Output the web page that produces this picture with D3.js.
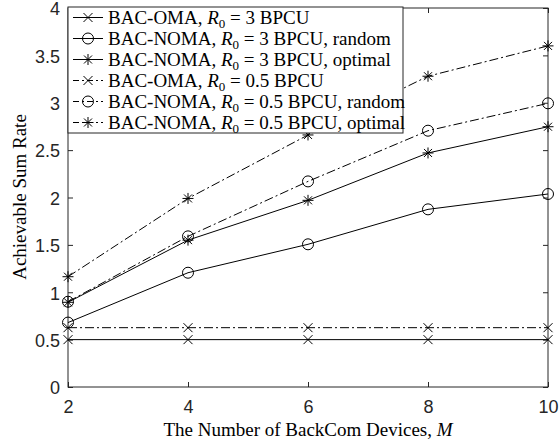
<!DOCTYPE html>
<html><head><meta charset="utf-8">
<script src="https://cdn.jsdelivr.net/npm/d3@7"></script>
<style>body{margin:0;background:#fff}</style>
</head><body>
<svg id="c" width="560" height="443"></svg>
<script>
const devices = [2, 4, 6, 8, 10];
const omaR3 = [0.5, 0.5, 0.5, 0.5, 0.5];
const nomaR3Random = [0.68, 1.206, 1.506, 1.875, 2.037];
const nomaR3Optimal = [0.894, 1.55, 1.97, 2.47, 2.747];
const omaR05 = [0.626, 0.626, 0.626, 0.626, 0.626];
const nomaR05Random = [0.9, 1.59, 2.17, 2.705, 2.994];
const nomaR05Optimal = [1.164, 1.99, 2.66, 3.28, 3.60];
const xTicks = [2, 4, 6, 8, 10];
const yTicks = [0, 0.5, 1, 1.5, 2, 2.5, 3, 3.5, 4];
const seriesNames = ["BAC-OMA", "BAC-NOMA", "BAC-NOMA", "BAC-OMA", "BAC-NOMA", "BAC-NOMA"];
const seriesR0 = ["3", "3", "3", "0.5", "0.5", "0.5"];
const seriesSuffix = ["", ", random", ", optimal", "", ", random", ", optimal"];

const series = [
  {v: omaR3, m: "x", dash: null},
  {v: nomaR3Random, m: "o", dash: null},
  {v: nomaR3Optimal, m: "*", dash: null},
  {v: omaR05, m: "x", dash: "9,3,2,3"},
  {v: nomaR05Random, m: "o", dash: "9,3,2,3"},
  {v: nomaR05Optimal, m: "*", dash: "9,3,2,3"},
];

const svg = d3.select("#c");
const L = 68, R = 548, T = 8, B = 387;
const x = d3.scaleLinear().domain([2, 10]).range([L, R]);
const y = d3.scaleLinear().domain([0, 4]).range([B, T]);

const tickFont = "'Liberation Sans', Arial, sans-serif";
const gx = svg.append("g").attr("transform", `translate(0,${B})`)
  .call(d3.axisBottom(x).tickValues(xTicks).tickSizeInner(-5).tickSizeOuter(0).tickPadding(13).tickFormat(d3.format("d")));
const gxt = svg.append("g").attr("transform", `translate(0,${T})`)
  .call(d3.axisTop(x).tickValues(xTicks).tickSizeInner(-5).tickSizeOuter(0).tickFormat(""));
const gy = svg.append("g").attr("transform", `translate(${L},0)`)
  .call(d3.axisLeft(y).tickValues(yTicks).tickSizeInner(-5).tickSizeOuter(0).tickPadding(8).tickFormat(d => d3.format("")(d)));
const gyr = svg.append("g").attr("transform", `translate(${R},0)`)
  .call(d3.axisRight(y).tickValues(yTicks).tickSizeInner(-5).tickSizeOuter(0).tickFormat(""));
[gx, gxt, gy, gyr].forEach(g => {
  g.selectAll(".domain").remove();
  g.selectAll("line").attr("stroke", "#262626").attr("stroke-width", 1);
  g.selectAll("text").attr("font-family", tickFont).attr("font-size", 18).attr("fill", "#262626");
});
gy.selectAll("text").attr("dy", "0.38em");
svg.append("rect").attr("x", L).attr("y", T).attr("width", R - L).attr("height", B - T)
  .attr("fill", "none").attr("stroke", "#262626").attr("stroke-width", 1);

function drawMarker(g, type, cx, cy) {
  if (type === "o") {
    g.append("circle").attr("cx", cx).attr("cy", cy).attr("r", 5.5)
      .attr("fill", "none").attr("stroke", "#000").attr("stroke-width", 1);
  } else if (type === "x") {
    const s = 4.5;
    g.append("path").attr("d", `M${cx-s},${cy-s}L${cx+s},${cy+s}M${cx-s},${cy+s}L${cx+s},${cy-s}`)
      .attr("stroke", "#000").attr("stroke-width", 1).attr("fill", "none");
  } else {
    const s = 5.5, d = 4;
    g.append("path").attr("d", `M${cx},${cy-s}L${cx},${cy+s}M${cx-s},${cy}L${cx+s},${cy}M${cx-d},${cy-d}L${cx+d},${cy+d}M${cx-d},${cy+d}L${cx+d},${cy-d}`)
      .attr("stroke", "#000").attr("stroke-width", 1).attr("fill", "none");
  }
}

const plot = svg.append("g");
const line = d3.line().x((d, i) => x(devices[i])).y(d => y(d));
series.forEach(s => {
  plot.append("path").datum(s.v).attr("d", line)
    .attr("fill", "none").attr("stroke", "#000").attr("stroke-width", 1)
    .attr("stroke-dasharray", s.dash);
  s.v.forEach((v, i) => drawMarker(plot, s.m, x(devices[i]), y(v)));
});

const serif = "'Liberation Serif', 'Times New Roman', serif";
const lg = svg.append("g");
const lx = 68, ly = 7, lw = 335, lh = 126;
lg.append("rect").attr("x", lx).attr("y", ly).attr("width", lw).attr("height", lh)
  .attr("fill", "#fff").attr("stroke", "#262626").attr("stroke-width", 1);
series.forEach((s, i) => {
  const cy = ly + 10.5 + i * 21;
  lg.append("line").attr("x1", lx + 5).attr("x2", lx + 35).attr("y1", cy).attr("y2", cy)
    .attr("stroke", "#000").attr("stroke-width", 1).attr("stroke-dasharray", s.dash ? "6,3,2,3" : null);
  drawMarker(lg, s.m, lx + 20, cy);
  const t = lg.append("text").attr("x", lx + 40).attr("y", cy + 6)
    .attr("font-family", serif).attr("font-size", 19).attr("fill", "#000");
  t.append("tspan").text(seriesNames[i] + ", ");
  t.append("tspan").attr("font-style", "italic").text("R");
  t.append("tspan").attr("font-size", 13).attr("dy", 4).text("0");
  t.append("tspan").attr("dy", -4).text(" = " + seriesR0[i] + " BPCU" + seriesSuffix[i]);
});

const xl = svg.append("text").attr("x", 308).attr("y", 436).attr("text-anchor", "middle")
  .attr("font-family", serif).attr("font-size", 19).attr("fill", "#000");
xl.append("tspan").text("The Number of BackCom Devices, ");
xl.append("tspan").attr("font-style", "italic").text("M");
svg.append("text").attr("transform", "translate(26,197) rotate(-90)").attr("text-anchor", "middle")
  .attr("font-family", serif).attr("font-size", 19).attr("fill", "#000").text("Achievable Sum Rate");
</script>
</body></html>
